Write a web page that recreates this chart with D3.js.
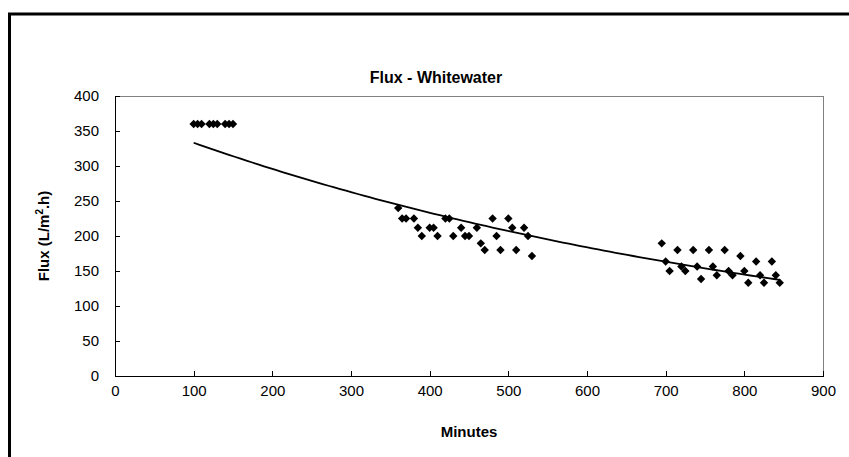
<!DOCTYPE html>
<html>
<head>
<meta charset="utf-8">
<script src="https://cdn.jsdelivr.net/npm/d3@7"></script>
<style>
html, body { margin: 0; padding: 0; background: #fff; }
svg { display: block; font-family: "Liberation Sans", Arial, sans-serif; }
</style>
</head>
<body>
<svg id="chart" width="849" height="457"></svg>
<script>
// ---- Data ----
const chartTitle = "Flux - Whitewater";
const xAxisTitle = "Minutes";
const xTickValues = [0, 100, 200, 300, 400, 500, 600, 700, 800, 900];
const yTickValues = [0, 50, 100, 150, 200, 250, 300, 350, 400];

const minutesEarly = [100, 105, 110, 120, 125, 130, 140, 145, 150];
const fluxEarly    = [360, 360, 360, 360, 360, 360, 360, 360, 360];

const minutesMid = [360, 365, 370, 380, 385, 390, 400, 405, 410, 420, 425, 430, 440, 445, 450,
                    460, 465, 470, 480, 485, 490, 500, 505, 510, 520, 525, 530];
const fluxMid    = [240, 225, 225, 225, 211.8, 200, 211.8, 211.8, 200, 225, 225, 200, 211.8, 200, 200,
                    211.8, 189.5, 180, 225, 200, 180, 225, 211.8, 180, 211.8, 200, 171.4];

const minutesLate = [695, 700, 705, 715, 720, 725, 735, 740, 745, 755, 760, 765,
                     775, 780, 785, 795, 800, 805, 815, 820, 825, 835, 840, 845];
const fluxLate    = [189.5, 163.6, 150, 180, 156.5, 150, 180, 156.5, 138.5, 180, 156.5, 144,
                     180, 150, 144, 171.4, 150, 133.3, 163.6, 144, 133.3, 163.6, 144, 133.3];

// ---- Build point table ----
const minutesAll = minutesEarly.concat(minutesMid, minutesLate);
const fluxAll = fluxEarly.concat(fluxMid, fluxLate);
const points = minutesAll.map((m, i) => ({ x: m, y: fluxAll[i] }));

// ---- Exponential trendline (least squares on ln y) ----
const mx = d3.mean(points, d => d.x);
const my = d3.mean(points, d => Math.log(d.y));
let sxx = 0, sxy = 0;
points.forEach(d => { sxx += (d.x - mx) ** 2; sxy += (d.x - mx) * (Math.log(d.y) - my); });
const b = sxy / sxx;
const lnA = my - b * mx;
const [xmin, xmax] = d3.extent(points, d => d.x);
const trend = d3.range(0, 101).map(i => {
  const xv = xmin + (xmax - xmin) * i / 100;
  return { x: xv, y: Math.exp(lnA + b * xv) };
});

// ---- Drawing ----
const svg = d3.select("#chart");

// outer chart frame (thick black, running off right/bottom)
svg.append("rect")
  .attr("x", 9.5).attr("y", 14).attr("width", 900).attr("height", 600)
  .attr("fill", "#fff").attr("stroke", "#000").attr("stroke-width", 3);

const x = d3.scaleLinear().domain([0, 900]).range([115, 823]);
const y = d3.scaleLinear().domain([0, 400]).range([376, 96]);

// plot area border (grey)
svg.append("rect")
  .attr("x", x(0)).attr("y", y(400))
  .attr("width", x(900) - x(0)).attr("height", y(0) - y(400))
  .attr("fill", "none").attr("stroke", "#808080").attr("stroke-width", 1)
  .attr("shape-rendering", "crispEdges");

// axes
const yAxis = svg.append("g")
  .attr("transform", `translate(${x(0)},0)`)
  .call(d3.axisLeft(y).tickValues(yTickValues).tickSizeInner(-5).tickSizeOuter(0).tickPadding(16));
const xAxis = svg.append("g")
  .attr("transform", `translate(0,${y(0)})`)
  .call(d3.axisBottom(x).tickValues(xTickValues).tickSizeInner(-5).tickSizeOuter(0).tickPadding(9));

[yAxis, xAxis].forEach(g => {
  g.selectAll("path.domain").attr("stroke", "#000").attr("shape-rendering", "crispEdges");
  g.selectAll(".tick line").attr("stroke", "#000").attr("shape-rendering", "crispEdges");
  g.selectAll(".tick text")
    .attr("fill", "#000")
    .style("font-family", "'Liberation Sans', Arial, sans-serif")
    .style("font-size", "15px");
});

// trendline
svg.append("path")
  .datum(trend)
  .attr("fill", "none")
  .attr("stroke", "#000")
  .attr("stroke-width", 1.8)
  .attr("d", d3.line().x(d => x(d.x)).y(d => y(d.y)));

// markers (diamonds)
const diamond = "M0,-4.2L4.2,0L0,4.2L-4.2,0Z";
svg.append("g").selectAll("path")
  .data(points)
  .join("path")
  .attr("d", diamond)
  .attr("transform", d => `translate(${x(d.x)},${y(d.y)})`)
  .attr("fill", "#000");

// titles
svg.append("text")
  .attr("x", 436).attr("y", 83)
  .attr("text-anchor", "middle")
  .style("font-size", "16px").style("font-weight", "bold")
  .text(chartTitle);

svg.append("text")
  .attr("x", x(450)).attr("y", 437)
  .attr("text-anchor", "middle")
  .style("font-size", "15px").style("font-weight", "bold")
  .text(xAxisTitle);

const yt = svg.append("text")
  .attr("transform", `translate(49,${(y(0) + y(400)) / 2}) rotate(-90)`)
  .attr("text-anchor", "middle")
  .style("font-size", "15px").style("font-weight", "bold");
yt.append("tspan").text("Flux (L/m");
yt.append("tspan").attr("dy", -6).style("font-size", "10px").text("2");
yt.append("tspan").attr("dy", 6).text(".h)");
</script>
</body>
</html>
